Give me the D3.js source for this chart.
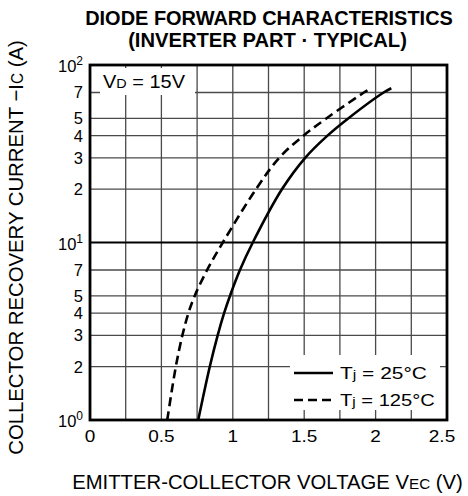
<!DOCTYPE html>
<html><head><meta charset="utf-8">
<script src="https://cdn.jsdelivr.net/npm/d3@7/dist/d3.min.js"></script>
<style>body{margin:0;background:#fff}svg{display:block;font-family:"Liberation Sans",Arial,sans-serif}</style>
</head><body><svg id="c" width="468" height="496"></svg>
<script>
const xTicks = [0, 0.5, 1, 1.5, 2, 2.5];
const xGrid = [0.25, 0.5, 0.75, 1, 1.25, 1.5, 1.75, 2, 2.25];
const yMinorLabels = [2, 3, 4, 5, 7, 20, 30, 40, 50, 70];
const yDecades = [1, 10, 100];
const yGrid = [2, 3, 4, 5, 7, 10, 20, 30, 40, 50, 70];
const v25 = [0.758, 0.839, 0.894, 0.939, 0.98, 1.05, 1.14, 1.345, 1.507, 1.663, 1.808, 2.056, 2.11];
const i25 = [1, 2, 3, 4, 5, 7, 10, 20, 30, 40, 50, 70, 74];
const v125 = [0.541, 0.601, 0.647, 0.689, 0.733, 0.82, 0.93, 1.163, 1.325, 1.495, 1.655, 1.918, 1.943];
const i125 = [1, 2, 3, 4, 5, 7, 10, 20, 30, 40, 50, 70, 72];

const svg = d3.select("#c");
const L = 90, R = 447, T = 65, B = 420;
const x = d3.scaleLinear().domain([0, 2.5]).range([L, R]);
const y = d3.scaleLog().domain([1, 100]).range([B, T]);

function label(o) {
  const g = svg.append("g");
  const t = g.append("text").attr("font-size", o.size).attr("font-weight", o.weight || null)
    .attr("text-anchor", o.anchor || "start").attr("fill", "#000");
  o.parts.forEach(p => t.append("tspan").attr("font-size", p.s || null).attr("dy", p.dy || null).text(p.t));
  let kx = o.sx || 1;
  if (o.width) kx = o.width / t.node().getBBox().width;
  g.attr("transform", `translate(${o.x},${o.y}) rotate(${o.rotate || 0}) scale(${kx},${o.sy || 1})`);
  return g;
}

// grid
svg.append("g").selectAll("line").data(xGrid).join("line")
  .attr("x1", d => x(d)).attr("x2", d => x(d)).attr("y1", T).attr("y2", B)
  .attr("stroke", "#4a4a4a").attr("stroke-width", 1.3);
svg.append("g").selectAll("line").data(yGrid).join("line")
  .attr("x1", L).attr("x2", R).attr("y1", d => y(d)).attr("y2", d => y(d))
  .attr("stroke", d => d === 10 ? "#000" : "#4a4a4a").attr("stroke-width", d => d === 10 ? 2.2 : 1.3);

// curves
const line = d3.line().x(d => x(d[0])).y(d => y(d[1])).curve(d3.curveCatmullRom.alpha(0.5));
svg.append("path").datum(v25.map((v, k) => [v, i25[k]])).attr("d", line)
  .attr("fill", "none").attr("stroke", "#000").attr("stroke-width", 2.6);
svg.append("path").datum(v125.map((v, k) => [v, i125[k]])).attr("d", line)
  .attr("fill", "none").attr("stroke", "#000").attr("stroke-width", 2.6).attr("stroke-dasharray", "9,5");

// V_D label box
svg.append("rect").attr("x", 100).attr("y", 68).attr("width", 95).attr("height", 27).attr("fill", "#fff");
label({x: 103, y: 88, size: 18, width: 82, parts: [{t: "V"}, {t: "D", s: 13}, {t: " = 15V"}]});

// legend
svg.append("rect").attr("x", 290).attr("y", 355).attr("width", 150).attr("height", 55).attr("fill", "#fff");
const legend = [{dash: null, t: " = 25°C", yy: 373, w: 87}, {dash: "9,5", t: " = 125°C", yy: 400, w: 95}];
legend.forEach(l => {
  svg.append("line").attr("x1", 294).attr("x2", 333).attr("y1", l.yy).attr("y2", l.yy)
    .attr("stroke", "#000").attr("stroke-width", 2.6).attr("stroke-dasharray", l.dash);
  label({x: 340, y: l.yy + 6, size: 16.5, width: l.w, parts: [{t: "T"}, {t: "j", s: 12.5}, {t: l.t}]});
});

// border
svg.append("rect").attr("x", L).attr("y", T).attr("width", R - L).attr("height", B - T)
  .attr("fill", "none").attr("stroke", "#000").attr("stroke-width", 2.8);

// x tick labels
xTicks.forEach(d => {
  label({x: d === 2.5 ? x(d) - 5 : x(d), y: 442, size: 16.5, anchor: "middle", sx: 1.15, parts: [{t: String(d)}]});
});

// y tick labels
yMinorLabels.forEach(v => {
  label({x: 83, y: y(v) + 6, size: 16.5, anchor: "end", parts: [{t: String(v).charAt(0)}]});
});
yDecades.forEach(v => {
  label({x: 83, y: y(v) + 7, size: 16.5, anchor: "end",
    parts: [{t: "10"}, {t: String(Math.round(Math.log10(v))), s: 12, dy: -7}]});
});

// titles
label({x: 269, y: 25, size: 20, weight: "bold", anchor: "middle", width: 368, parts: [{t: "DIODE FORWARD CHARACTERISTICS"}]});
label({x: 267.5, y: 47, size: 20, weight: "bold", anchor: "middle", width: 279, parts: [{t: "(INVERTER PART · TYPICAL)"}]});

// x axis label
label({x: 267.5, y: 489, size: 20, anchor: "middle", width: 391,
  parts: [{t: "EMITTER-COLLECTOR VOLTAGE  V"}, {t: "EC", s: 15}, {t: " (V)"}]});

// y axis label
label({x: 23, y: 247.5, size: 18.5, anchor: "middle", width: 415, sy: 1.12, rotate: -90,
  parts: [{t: "COLLECTOR RECOVERY CURRENT  −I"}, {t: "C", s: 14}, {t: " (A)"}]});
</script></body></html>
